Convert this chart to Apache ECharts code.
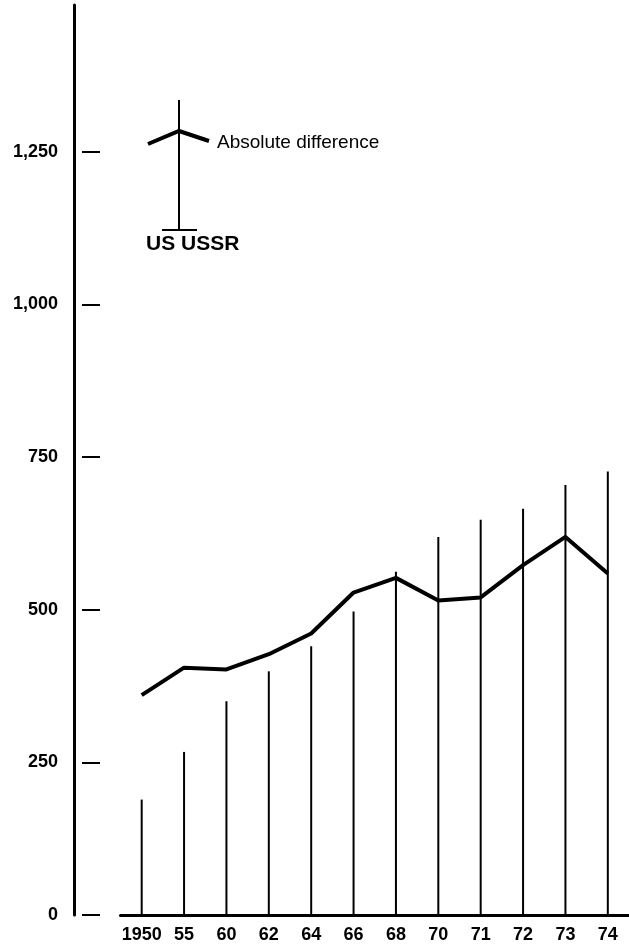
<!DOCTYPE html>
<html>
<head>
<meta charset="utf-8">
<script src="https://cdn.jsdelivr.net/npm/echarts@6/dist/echarts.min.js"></script>
<style>
html,body{margin:0;padding:0;background:#fff;}
#chart{width:629px;height:944px;}
</style>
</head>
<body>
<div id="chart"></div>
<script>
const categories = ['1950','55','60','62','64','66','68','70','71','72','73','74'];
const barValues = [189,267,350,399,440,497,562,619,647,665,704,726];
const differenceValues = [360,405,402,427,461,528,552,515,520,573,619,559];
const yTickValues = [0,250,500,750,1000,1250];

const FONT = 'Liberation Sans';
const chart = echarts.init(document.getElementById('chart'), null, {renderer:'canvas'});

function fmt(v){ return v.toLocaleString('en-US'); }

chart.setOption({
  animation:false,
  backgroundColor:'#ffffff',
  grid:{left:120.5, right:-7.5, top:5, bottom:25, containLabel:false},
  xAxis:{
    type:'category',
    data:categories,
    boundaryGap:true,
    axisLine:{show:true, lineStyle:{color:'#000', width:3}},
    axisTick:{show:false},
    axisLabel:{color:'#000', fontFamily:FONT, fontWeight:'bold', fontSize:18, margin:11, interval:0}
  },
  yAxis:[
    {
      type:'value', min:0, max:1490,
      position:'left', offset:46.5,
      axisLine:{show:true, lineStyle:{color:'#000', width:3}},
      axisTick:{show:false},
      splitLine:{show:false},
      axisLabel:{
        color:'#000', fontFamily:FONT, fontWeight:'bold', fontSize:18, margin:16,
        customValues:yTickValues,
        formatter:function(v){ return fmt(v); }
      }
    },
    {
      type:'value', min:0, max:1490,
      position:'left', offset:38.5,
      axisLine:{show:false},
      axisTick:{show:true, inside:true, length:18, customValues:yTickValues, lineStyle:{color:'#000', width:2}},
      axisLabel:{show:false},
      splitLine:{show:false}
    }
  ],
  series:[
    {
      name:'US',
      type:'bar',
      data:barValues,
      barWidth:2,
      itemStyle:{color:'#000'},
      z:2
    },
    {
      name:'Absolute difference',
      type:'line',
      data:differenceValues,
      symbol:'none',
      lineStyle:{color:'#000', width:4, join:'round'},
      z:3
    }
  ],
  graphic:[
    {type:'line', shape:{x1:179,y1:100,x2:179,y2:230}, style:{stroke:'#000', lineWidth:2}},
    {type:'line', shape:{x1:162,y1:230,x2:197,y2:230}, style:{stroke:'#000', lineWidth:2}},
    {type:'polyline', shape:{points:[[148,144],[179,131],[209,141]]}, style:{stroke:'#000', lineWidth:4, fill:null}},
    {type:'text', x:217, y:143, style:{text:'Absolute difference', fill:'#000', font:'19px "Liberation Sans"', textVerticalAlign:'middle', verticalAlign:'middle'}},
    {type:'text', x:146, y:244, style:{text:'US USSR', fill:'#000', font:'bold 21px "Liberation Sans"', textVerticalAlign:'middle', verticalAlign:'middle'}}
  ]
});
</script>
</body>
</html>
